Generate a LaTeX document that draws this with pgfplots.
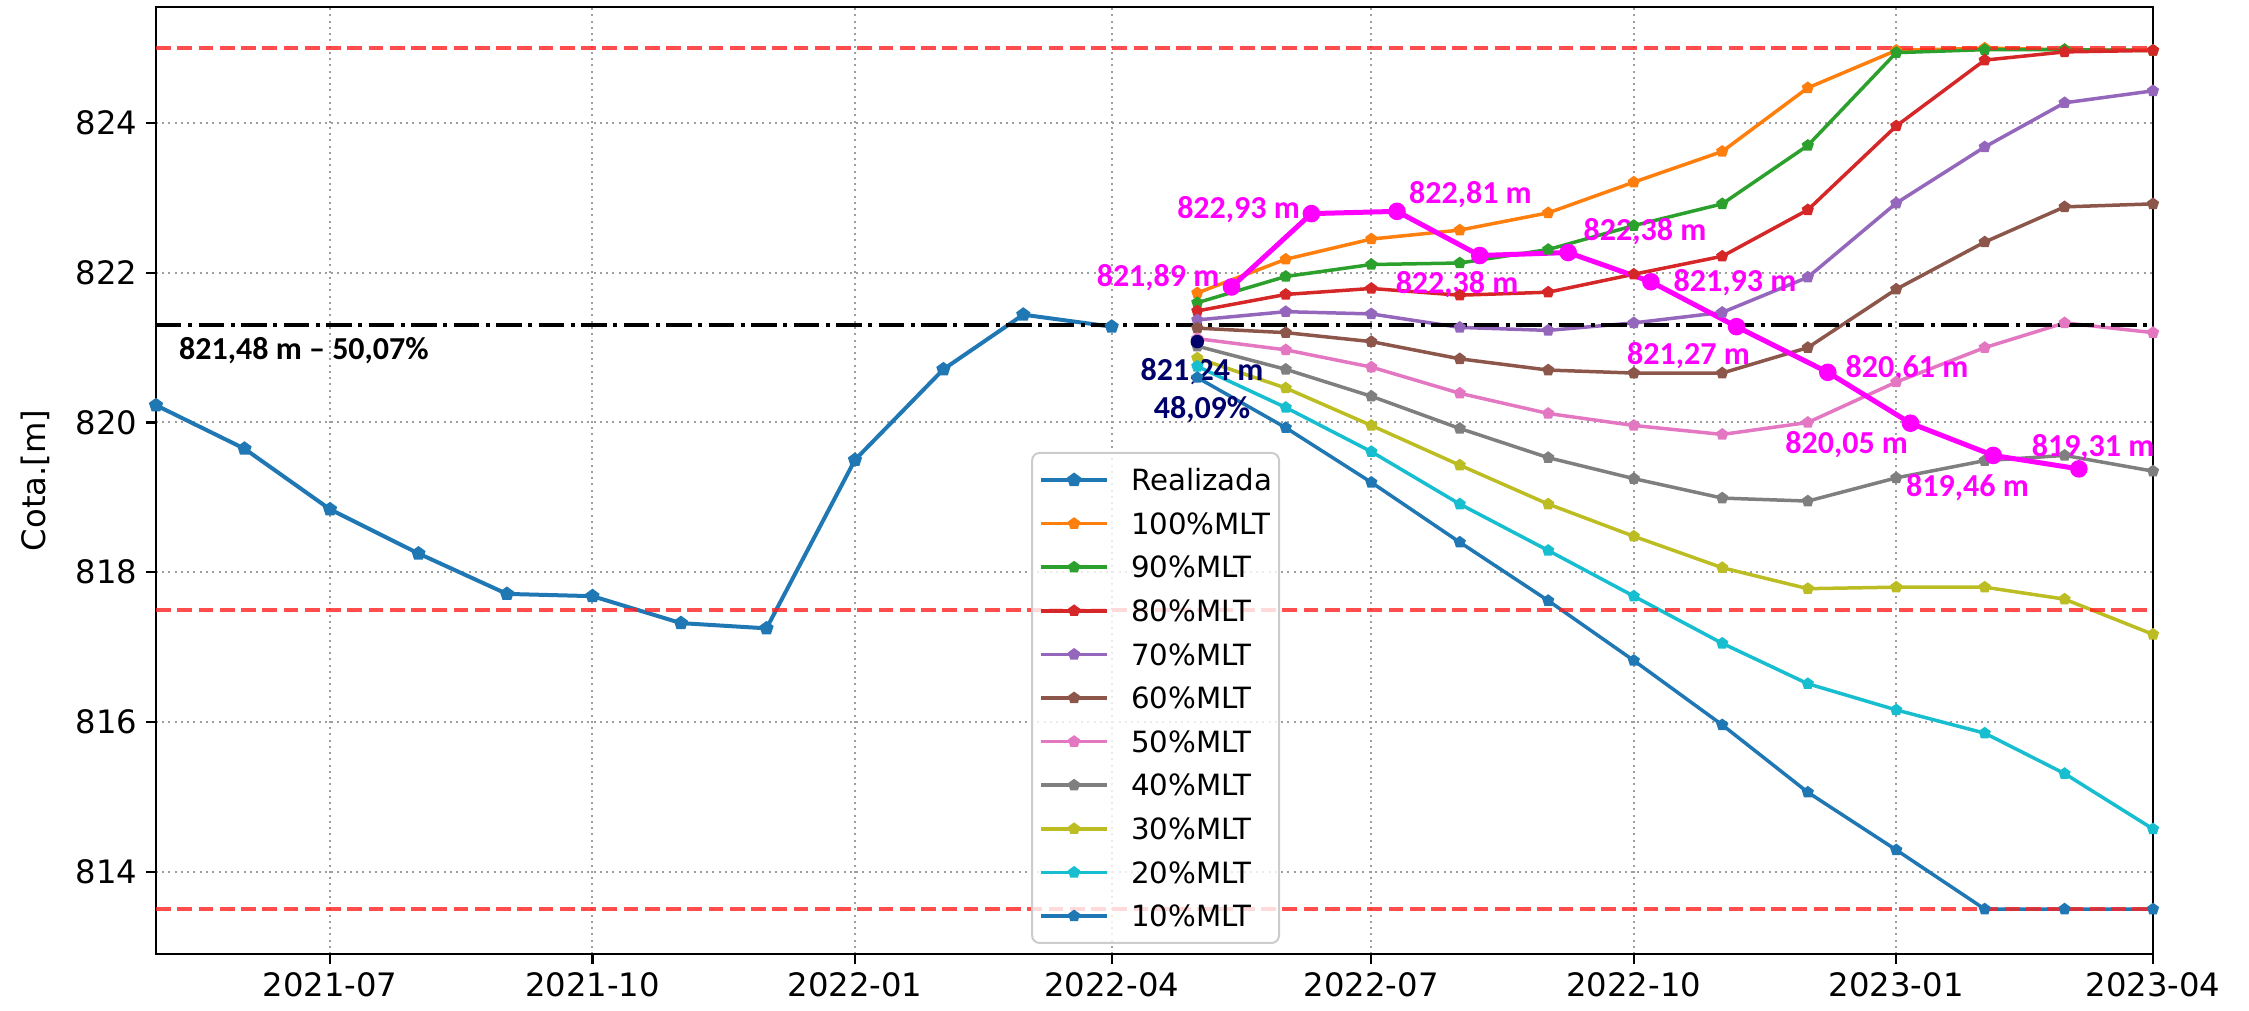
\documentclass[border=0pt]{standalone}
\usepackage{fontspec}
\setmainfont{DejaVu Sans}
\newfontfamily\calib{Carlito}
\usepackage{pgfplots}
\pgfplotsset{compat=1.18}
\usepgfplotslibrary{dateplot}
\definecolor{tblue}{HTML}{1F77B4}
\definecolor{torange}{HTML}{FF7F0E}
\definecolor{tgreen}{HTML}{2CA02C}
\definecolor{tred}{HTML}{D62728}
\definecolor{tpurple}{HTML}{9467BD}
\definecolor{tbrown}{HTML}{8C564B}
\definecolor{tpink}{HTML}{E377C2}
\definecolor{tgray}{HTML}{7F7F7F}
\definecolor{tolive}{HTML}{BCBD22}
\definecolor{tcyan}{HTML}{17BECF}
\definecolor{limred}{HTML}{FF2020}
\definecolor{mag}{HTML}{FF00FF}
\definecolor{navyd}{HTML}{00006B}
\tikzset{
  ser/.style={line width=1.4pt,mark=pentagon*,mark size=1.7pt,mark options={solid}},
  ann/.style={font=\calib\bfseries\fontsize{12.8}{15}\selectfont,anchor=base,inner sep=0pt},
  lim/.style={limred,draw opacity=0.8,line width=1.6pt,dash pattern=on 5.9pt off 2.6pt,mark=none},
}
\begin{document}
\begin{tikzpicture}
\begin{axis}[
  name=ax, scale only axis, width=798.8pt, height=378.8pt,
  date coordinates in=x, date ZERO=2021-05-01,
  xmin=2021-05-01, xmax=2023-04-01, ymin=812.9, ymax=825.55,
  xtick={2021-07-01,2021-10-01,2022-01-01,2022-04-01,2022-07-01,2022-10-01,2023-01-01,2023-04-01},
  xticklabels={2021-07,2021-10,2022-01,2022-04,2022-07,2022-10,2023-01,2023-04},
  ytick={814,816,818,820,822,824},
  /pgf/number format/assume math mode=true,
  tick label style={font=\fontsize{12.9}{15}\selectfont},
  ylabel={Cota.[m]},
  ylabel style={font=\fontsize{12.9}{15}\selectfont,at={(rel axis cs:-0.0606,0.5)},anchor=center},
  grid=major,
  major grid style={draw=black!38,line width=0.8pt,dash pattern=on 0.8pt off 1.7pt},
  tick align=outside, tick pos=left, major tick length=4pt,
  tick style={black,line width=0.9pt},
  axis line style={line width=0.9pt},
  clip=false,
  legend cell align=left,
  legend image code/.code={\draw[mark repeat=2,mark phase=2] plot coordinates {(0pt,0pt) (13.2pt,0pt) (26.4pt,0pt)};},
  legend style={at={(rel axis cs:0.4382,0.5301)},anchor=north west,
    font=\fontsize{11.7}{14}\selectfont,draw=black!20,line width=0.8pt,rounded corners=3pt,
    fill=white,fill opacity=0.8,draw opacity=1,text opacity=1,
    inner xsep=2.8pt,inner ysep=6.5pt,row sep=8.84pt,
    nodes={inner sep=0pt,text height=8.6pt,text depth=0pt},
    /tikz/every odd column/.append style={column sep=8.8pt}},
]
% realizada
\addplot[color=tblue,line width=1.6pt,mark=pentagon*,mark size=2pt] coordinates {
 (2021-05-01,820.23) (2021-06-01,819.65) (2021-07-01,818.84) (2021-08-01,818.25)
 (2021-09-01,817.71) (2021-10-01,817.68) (2021-11-01,817.32) (2021-12-01,817.25)
 (2022-01-01,819.50) (2022-02-01,820.71) (2022-03-01,821.44) (2022-04-01,821.28)};
\addlegendentry{Realizada}
\addplot[ser,color=torange] coordinates {
 (2022-05-01,821.73) (2022-06-01,822.18) (2022-07-01,822.45) (2022-08-01,822.57)
 (2022-09-01,822.80) (2022-10-01,823.21) (2022-11-01,823.62) (2022-12-01,824.47)
 (2023-01-01,824.97) (2023-02-01,825.00) (2023-03-01,824.98) (2023-04-01,824.97)};
\addlegendentry{100\%MLT}
\addplot[ser,color=tgreen] coordinates {
 (2022-05-01,821.60) (2022-06-01,821.95) (2022-07-01,822.11) (2022-08-01,822.13)
 (2022-09-01,822.31) (2022-10-01,822.63) (2022-11-01,822.92) (2022-12-01,823.70)
 (2023-01-01,824.94) (2023-02-01,824.98) (2023-03-01,824.98) (2023-04-01,824.97)};
\addlegendentry{90\%MLT}
\addplot[ser,color=tred] coordinates {
 (2022-05-01,821.49) (2022-06-01,821.71) (2022-07-01,821.79) (2022-08-01,821.70)
 (2022-09-01,821.74) (2022-10-01,821.98) (2022-11-01,822.22) (2022-12-01,822.84)
 (2023-01-01,823.96) (2023-02-01,824.84) (2023-03-01,824.95) (2023-04-01,824.97)};
\addlegendentry{80\%MLT}
\addplot[ser,color=tpurple] coordinates {
 (2022-05-01,821.37) (2022-06-01,821.48) (2022-07-01,821.45) (2022-08-01,821.27)
 (2022-09-01,821.23) (2022-10-01,821.33) (2022-11-01,821.47) (2022-12-01,821.94)
 (2023-01-01,822.93) (2023-02-01,823.68) (2023-03-01,824.27) (2023-04-01,824.43)};
\addlegendentry{70\%MLT}
\addplot[ser,color=tbrown] coordinates {
 (2022-05-01,821.26) (2022-06-01,821.20) (2022-07-01,821.08) (2022-08-01,820.85)
 (2022-09-01,820.70) (2022-10-01,820.66) (2022-11-01,820.66) (2022-12-01,821.00)
 (2023-01-01,821.78) (2023-02-01,822.41) (2023-03-01,822.88) (2023-04-01,822.92)};
\addlegendentry{60\%MLT}
\addplot[ser,color=tpink] coordinates {
 (2022-05-01,821.12) (2022-06-01,820.97) (2022-07-01,820.74) (2022-08-01,820.39)
 (2022-09-01,820.12) (2022-10-01,819.96) (2022-11-01,819.84) (2022-12-01,820.00)
 (2023-01-01,820.54) (2023-02-01,821.00) (2023-03-01,821.33) (2023-04-01,821.20)};
\addlegendentry{50\%MLT}
\addplot[ser,color=tgray] coordinates {
 (2022-05-01,821.02) (2022-06-01,820.71) (2022-07-01,820.35) (2022-08-01,819.92)
 (2022-09-01,819.53) (2022-10-01,819.25) (2022-11-01,818.99) (2022-12-01,818.95)
 (2023-01-01,819.26) (2023-02-01,819.49) (2023-03-01,819.56) (2023-04-01,819.35)};
\addlegendentry{40\%MLT}
\addplot[ser,color=tolive] coordinates {
 (2022-05-01,820.86) (2022-06-01,820.46) (2022-07-01,819.96) (2022-08-01,819.43)
 (2022-09-01,818.91) (2022-10-01,818.48) (2022-11-01,818.06) (2022-12-01,817.78)
 (2023-01-01,817.80) (2023-02-01,817.80) (2023-03-01,817.64) (2023-04-01,817.17)};
\addlegendentry{30\%MLT}
\addplot[ser,color=tcyan] coordinates {
 (2022-05-01,820.75) (2022-06-01,820.20) (2022-07-01,819.61) (2022-08-01,818.91)
 (2022-09-01,818.29) (2022-10-01,817.68) (2022-11-01,817.05) (2022-12-01,816.51)
 (2023-01-01,816.16) (2023-02-01,815.85) (2023-03-01,815.31) (2023-04-01,814.57)};
\addlegendentry{20\%MLT}
\addplot[ser,color=tblue] coordinates {
 (2022-05-01,820.60) (2022-06-01,819.93) (2022-07-01,819.20) (2022-08-01,818.40)
 (2022-09-01,817.62) (2022-10-01,816.82) (2022-11-01,815.96) (2022-12-01,815.06)
 (2023-01-01,814.29) (2023-02-01,813.50) (2023-03-01,813.50) (2023-04-01,813.50)};
\addlegendentry{10\%MLT}
% limits
\addplot[lim,forget plot] coordinates {(2021-05-01,825) (2023-04-01,825)};
\addplot[lim,forget plot] coordinates {(2021-05-01,817.5) (2023-04-01,817.5)};
\addplot[lim,forget plot] coordinates {(2021-05-01,813.5) (2023-04-01,813.5)};
\addplot[black,line width=1.6pt,dash pattern=on 10.2pt off 2.6pt on 1.6pt off 2.6pt,mark=none,forget plot]
 coordinates {(2021-05-01,821.3) (2023-04-01,821.3)};
% magenta trajectory
\addplot[mag,line width=2pt,mark=*,mark size=2.5pt,forget plot] coordinates {
 (2022-05-13,821.81) (2022-06-10,822.79) (2022-07-10,822.82) (2022-08-08,822.23)
 (2022-09-08,822.27) (2022-10-07,821.88) (2022-11-06,821.28) (2022-12-08,820.67)
 (2023-01-06,819.99) (2023-02-04,819.56) (2023-03-06,819.38)};
\addplot[navyd,only marks,mark=*,mark size=2.5pt,forget plot] coordinates {(2022-05-01,821.08)};
% annotations
\node[ann,text=black] at (rel axis cs:0.0741,0.628) {821,48 m – 50,07\%};
\node[ann,text=navyd] at (rel axis cs:0.5238,0.6061) {821,24 m};
\node[ann,text=navyd] at (rel axis cs:0.5238,0.5657) {48,09\%};
\node[ann,text=mag] at (rel axis cs:0.5018,0.7046) {821,89 m};
\node[ann,text=mag] at (rel axis cs:0.5421,0.7762) {822,93 m};
\node[ann,text=mag] at (rel axis cs:0.6582,0.7920) {822,81 m};
\node[ann,text=mag] at (rel axis cs:0.6515,0.6977) {822,38 m};
\node[ann,text=mag] at (rel axis cs:0.7456,0.7532) {822,38 m};
\node[ann,text=mag] at (rel axis cs:0.7907,0.6994) {821,93 m};
\node[ann,text=mag] at (rel axis cs:0.7674,0.6220) {821,27 m};
\node[ann,text=mag] at (rel axis cs:0.8768,0.6085) {820,61 m};
\node[ann,text=mag] at (rel axis cs:0.8466,0.5287) {820,05 m};
\node[ann,text=mag] at (rel axis cs:0.9071,0.4836) {819,46 m};
\node[ann,text=mag] at (rel axis cs:0.9700,0.5251) {819,31 m};
\coordinate (sw) at (rel axis cs:0,0);
\coordinate (ne) at (rel axis cs:1,1);
\end{axis}
\pgfresetboundingbox
\path ([shift={(-62.4pt,-22.4pt)}]sw) rectangle ([shift={(38.4pt,2.8pt)}]ne);
\end{tikzpicture}
\end{document}
